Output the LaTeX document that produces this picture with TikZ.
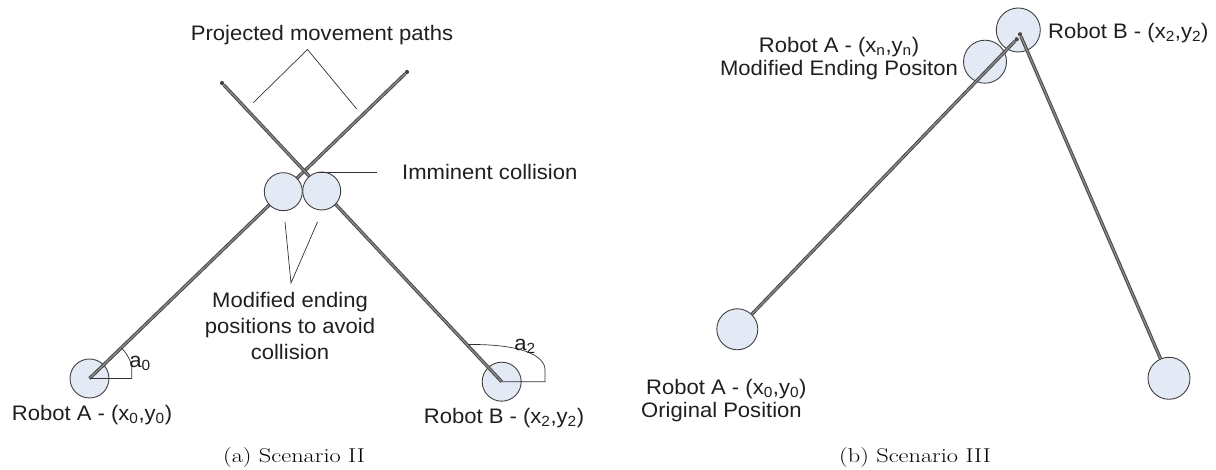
\documentclass[tikz,border=0pt]{standalone}
\usepackage{fontspec}
\usepackage{graphicx}
\newfontfamily\labfont[FakeStretch=1.05]{Liberation Sans}
\definecolor{robotfill}{HTML}{E4EAF5}
\definecolor{edgegray}{HTML}{404040}
\tikzset{
  robot/.style={circle, draw=edgegray, line width=0.9pt, fill=robotfill,
                inner sep=0pt, minimum size=#1},
  robot/.default=39pt,
  mpath/.style={draw=black!72, line width=1pt, double=black!45,
                double distance=1.3pt},
  tip/.style={circle, fill=black!72, inner sep=0pt, minimum size=4.2pt},
  leader/.style={draw=black!80, line width=0.7pt},
  lab/.style={font=\labfont\fontsize{21}{26}\selectfont, text=black!88,
              inner sep=0pt},
  labtight/.style={lab, font=\labfont\fontsize{21}{23}\selectfont},
  subcap/.style={font=\fontsize{20}{24}\selectfont, inner sep=0pt}
}
\begin{document}
\begin{tikzpicture}[x=1pt,y=1pt]
\useasboundingbox (0,0) rectangle (1216,470);

% ---------- Scenario II ----------
\node[robot] (A) at (89.5,91.5) {};
\node[robot] (B) at (501.7,88.3) {};
\node[tip] (tA) at (407,398) {};
\node[tip] (tB) at (222,387) {};
\draw[mpath] (A.center) -- (tA);
\draw[mpath] (B.center) -- (tB);
\node[robot=38pt] (M1) at (283.3,278.3) {};
\node[robot=38pt] (M2) at (321.7,279) {};

% angle marks
\draw[leader] (A.center) -- ++(42.2,0) -- ++(0,13.5)
  arc[start angle=17.8, end angle=44, radius=44.3];
\node[lab] (a0) at (140,106.7) {a\textsubscript{0}};
\draw[leader] (B.center) -- ++(43.3,0) -- ++(0,11.7)
  .. controls (545,115) and (520,126) .. (468.3,125.5);
\node[lab] (a2) at (525,123.3) {a\textsubscript{2}};

% annotations
\node[lab] (ptxt) at (322,435) {Projected movement paths};
\coordinate (pL) at (253.3,367.3);
\coordinate (pTop) at (307.5,420.5);
\coordinate (pR) at (356.7,361);
\draw[leader] (pL) -- (pTop) -- (pR);

\node[lab, anchor=west] (imm) at (402,298) {Imminent collision};
\coordinate (iL) at (316.7,297.7);
\coordinate (iR) at (376.7,297.7);
\draw[leader] (iL) -- (iR);

\node[lab, align=center] (mod) at (290,144)
  {Modified ending\\positions to avoid\\collision};
\coordinate (mL) at (285,248);
\coordinate (mTip) at (291,187);
\coordinate (mR) at (317.5,248);
\draw[leader] (mL) -- (mTip) -- (mR);

\node[lab] (labA) at (92,55) {Robot A - (x\textsubscript{0},y\textsubscript{0})};
\node[lab] (labB) at (504,52) {Robot B - (x\textsubscript{2},y\textsubscript{2})};

\node[subcap] (capa) at (294,12.5) {\scalebox{1.22}[1]{(a) Scenario II}};

% ---------- Scenario III ----------
\node[robot=41pt] (Ao) at (737.3,140.7) {};
\node[robot=43pt] (Am) at (985,408.3) {};
\node[robot=44pt] (Bm) at (1018.3,440) {};
\node[robot=42pt] (Bo) at (1169,91.7) {};
\node[tip] (tA3) at (1016.7,430.7) {};
\node[tip] (tB3) at (1020,435.7) {};
\draw[mpath] (Ao) -- (tA3);
\draw[mpath] (Bo) -- (tB3);

\node[labtight, align=left, anchor=west] (labAo) at (641,69.5)
  {\hspace{5pt}Robot A - (x\textsubscript{0},y\textsubscript{0})\\Original Position};
\node[labtight, align=center] (labAm) at (839,411.7)
  {Robot A - (x\textsubscript{n},y\textsubscript{n})\\Modified Ending Positon};
\node[lab, anchor=west] (labBm) at (1048,437)
  {Robot B - (x\textsubscript{2},y\textsubscript{2})};

\node[subcap] (capb) at (915,12.5) {\scalebox{1.22}[1]{(b) Scenario III}};
\end{tikzpicture}
\end{document}
